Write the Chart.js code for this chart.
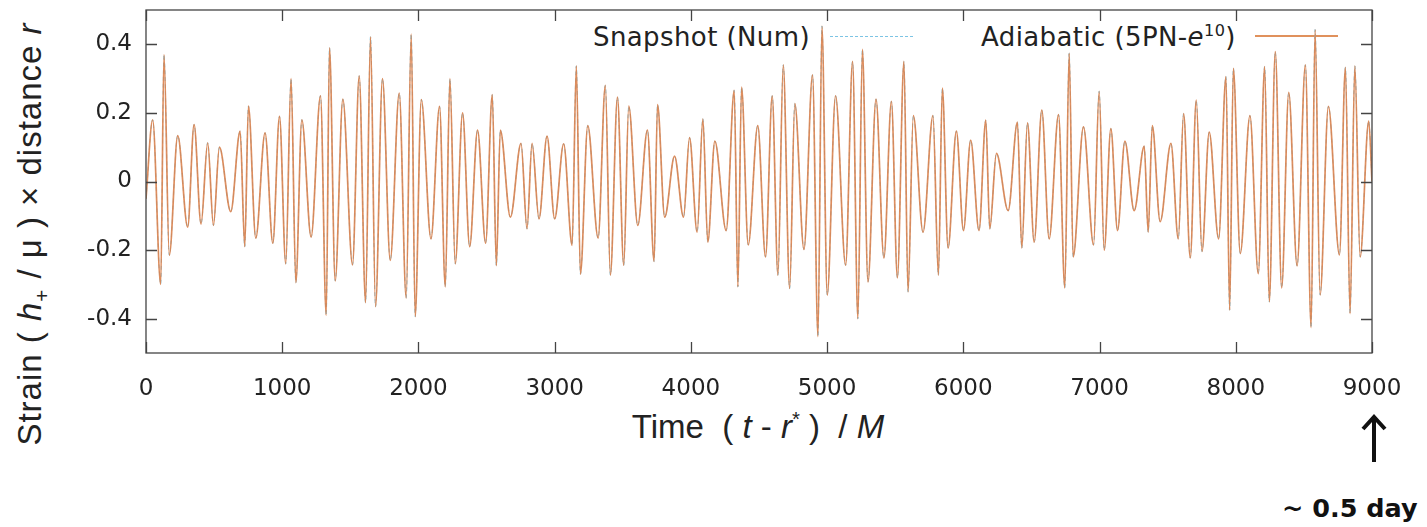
<!DOCTYPE html>
<html>
<head>
<meta charset="utf-8">
<script src="https://cdn.jsdelivr.net/npm/chart.js@4.4.1/dist/chart.umd.min.js"></script>
<style>
  html, body { margin: 0; padding: 0; background: #fff; }
  #wrap { position: relative; width: 1427px; height: 527px; overflow: hidden; }
  #strainChart { position: absolute; left: 0; top: 0; z-index: 2; }
  .lbl { position: absolute; color: #222; white-space: nowrap; }
  .legend { font-family: "DejaVu Sans", sans-serif; font-size: 26px; line-height: 30px; letter-spacing: 0.4px; z-index: 1; }
  .axis-title { font-family: "Liberation Sans", Arial, sans-serif; line-height: 36px; }
  sup, sub { font-size: 62%; line-height: 0; }
</style>
</head>
<body>
<div id="wrap">
  <!-- legend sits under the canvas, like gnuplot's key -->
  <div class="lbl legend" style="left:593px; top:22px;">Snapshot (Num)</div>
  <div style="position:absolute; left:830px; top:36px; width:83px; border-top:1.5px dashed #7cc4e4; z-index:1;"></div>
  <div class="lbl legend" style="left:981px; top:22px;">Adiabatic (5PN-<i>e</i><sup>10</sup>)</div>
  <div style="position:absolute; left:1255px; top:35px; width:83px; height:2px; background:#e0915c; z-index:1;"></div>

  <canvas id="strainChart" width="1427" height="527"></canvas>

  <div class="lbl axis-title" style="left:30px; top:234px; font-size:33px; letter-spacing:1px; transform:translate(-50%,-50%) rotate(-90deg);">Strain ( <i>h</i><sub>+</sub> / μ ) × distance <i>r</i></div>
  <div class="lbl axis-title" style="left:758px; top:427px; font-size:33px; transform:translate(-50%,-50%);">Time&nbsp; ( <i>t</i> - <i>r</i><sup>*</sup> ) &nbsp;/ <i>M</i></div>

  <svg style="position:absolute; left:1360px; top:412px;" width="30" height="54">
    <line x1="14" y1="50" x2="14" y2="6" stroke="#111" stroke-width="4"/>
    <polyline points="3,17 14,5 25,17" fill="none" stroke="#111" stroke-width="4"/>
  </svg>
  <div class="lbl" style="left:1282px; top:492px; font-family:'DejaVu Sans', sans-serif; font-weight:bold; font-size:25.5px; line-height:32px; color:#111;">~ 0.5 day</div>
</div>

<script>
// Extrema of the waveform (time in M, strain)
const times = [
  0, 49, 108, 132, 171, 233, 306, 353, 404, 453, 495, 539, 622, 691, 725, 752, 806, 874, 931, 980,
  1026, 1065, 1100, 1144, 1212, 1281, 1323, 1347, 1389, 1445, 1516, 1565, 1612, 1648, 1685, 1736, 1793, 1859, 1910, 1947,
  1976, 2021, 2092, 2155, 2197, 2231, 2270, 2324, 2376, 2434, 2493, 2542, 2572, 2601, 2675, 2753, 2797, 2834, 2885, 2944,
  3000, 3066, 3128, 3159, 3189, 3243, 3319, 3372, 3409, 3461, 3507, 3544, 3610, 3681, 3730, 3755, 3808, 3880, 3946, 3990,
  4046, 4088, 4124, 4176, 4259, 4318, 4345, 4372, 4421, 4491, 4548, 4597, 4639, 4678, 4725, 4763, 4830, 4893, 4933, 4962,
  5001, 5062, 5136, 5187, 5226, 5259, 5300, 5359, 5417, 5472, 5516, 5564, 5594, 5633, 5704, 5777, 5817, 5846, 5888, 5949,
  6001, 6054, 6115, 6165, 6194, 6243, 6329, 6397, 6429, 6471, 6520, 6576, 6630, 6699, 6745, 6777, 6806, 6882, 6956, 6997,
  7034, 7083, 7132, 7186, 7254, 7328, 7357, 7387, 7445, 7524, 7578, 7617, 7666, 7710, 7752, 7805, 7874, 7928, 7955, 7982,
  8033, 8104, 8165, 8212, 8246, 8290, 8337, 8389, 8450, 8511, 8553, 8582, 8619, 8680, 8761, 8805, 8839, 8874, 8913, 8976,
  9000
];
const adiabaticStrain = [
  -0.05, 0.18, -0.30, 0.37, -0.215, 0.134, -0.133, 0.166, -0.124, 0.113, -0.128, 0.10, -0.088, 0.147, -0.19, 0.22, -0.165, 0.142, -0.18, 0.19,
  -0.24, 0.30, -0.295, 0.18, -0.162, 0.25, -0.39, 0.39, -0.29, 0.24, -0.243, 0.308, -0.353, 0.422, -0.365, 0.30, -0.23, 0.258, -0.34, 0.43,
  -0.394, 0.239, -0.167, 0.219, -0.307, 0.30, -0.24, 0.20, -0.19, 0.15, -0.18, 0.253, -0.245, 0.15, -0.104, 0.111, -0.138, 0.111, -0.109, 0.132,
  -0.109, 0.11, -0.186, 0.337, -0.27, 0.163, -0.165, 0.28, -0.273, 0.246, -0.244, 0.22, -0.128, 0.15, -0.233, 0.224, -0.104, 0.074, -0.104, 0.128,
  -0.148, 0.183, -0.177, 0.118, -0.143, 0.266, -0.307, 0.275, -0.185, 0.163, -0.22, 0.25, -0.273, 0.34, -0.312, 0.227, -0.198, 0.311, -0.452, 0.453,
  -0.331, 0.25, -0.244, 0.35, -0.40, 0.385, -0.293, 0.24, -0.223, 0.234, -0.281, 0.35, -0.322, 0.192, -0.148, 0.192, -0.273, 0.272, -0.194, 0.147,
  -0.143, 0.121, -0.143, 0.179, -0.138, 0.082, -0.085, 0.173, -0.194, 0.171, -0.177, 0.208, -0.167, 0.195, -0.31, 0.374, -0.22, 0.159, -0.185, 0.263,
  -0.20, 0.154, -0.143, 0.118, -0.085, 0.103, -0.148, 0.163, -0.117, 0.111, -0.167, 0.198, -0.223, 0.237, -0.204, 0.144, -0.167, 0.306, -0.375, 0.33,
  -0.21, 0.192, -0.269, 0.335, -0.351, 0.379, -0.31, 0.26, -0.246, 0.34, -0.426, 0.443, -0.331, 0.219, -0.214, 0.333, -0.385, 0.337, -0.22, 0.176,
  0.0
];
// the numerical snapshot lies on top of the adiabatic curve everywhere
const snapshotStrain = adiabaticStrain;

const xTicks = [0, 1000, 2000, 3000, 4000, 5000, 6000, 7000, 8000, 9000];
const yTicks = [-0.4, -0.2, 0, 0.2, 0.4];

// gnuplot-style frame with inward tick marks on all four sides
const frameTicks = {
  id: "frameTicks",
  afterDatasetsDraw(chart) {
    const { ctx, chartArea: a, scales } = chart;
    const len = 11;
    ctx.save();
    ctx.strokeStyle = "#444";
    ctx.lineWidth = 1.3;
    ctx.strokeRect(a.left, a.top, a.right - a.left, a.bottom - a.top);
    ctx.beginPath();
    scales.x.ticks.forEach((t) => {
      const px = Math.round(scales.x.getPixelForValue(t.value)) + 0.5;
      ctx.moveTo(px, a.bottom); ctx.lineTo(px, a.bottom - len);
      ctx.moveTo(px, a.top); ctx.lineTo(px, a.top + len);
    });
    scales.y.ticks.forEach((t) => {
      const py = Math.round(scales.y.getPixelForValue(t.value)) + 0.5;
      ctx.moveTo(a.left, py); ctx.lineTo(a.left + len, py);
      ctx.moveTo(a.right, py); ctx.lineTo(a.right - len, py);
    });
    ctx.stroke();
    ctx.restore();
  },
};

const toPoints = (vals) => times.map((t, i) => ({ x: t, y: vals[i] }));

new Chart(document.getElementById("strainChart"), {
  type: "line",
  data: {
    datasets: [
      {
        label: "Adiabatic (5PN-e10)",
        data: toPoints(adiabaticStrain),
        borderColor: "rgba(218,130,78,0.9)",
        borderWidth: 1.7,
        order: 0,
      },
      {
        label: "Snapshot (Num)",
        data: toPoints(snapshotStrain),
        borderColor: "#78c6e6",
        borderWidth: 1,
        borderDash: [4, 3],
        order: 1,
      },
    ],
  },
  options: {
    responsive: false,
    animation: false,
    layout: { padding: { left: 0, top: 10, right: 55, bottom: 124 } },
    elements: {
      point: { radius: 0 },
      line: { cubicInterpolationMode: "monotone", fill: false },
    },
    plugins: { legend: { display: false }, tooltip: { enabled: false } },
    scales: {
      x: {
        type: "linear",
        min: 0,
        max: 9000,
        grid: { display: false },
        border: { display: false },
        afterBuildTicks: (scale) => { scale.ticks = xTicks.map((v) => ({ value: v })); },
        afterFit: (scale) => { scale.height = 50; scale.paddingLeft = 0; scale.paddingRight = 0; },
        ticks: {
          color: "#222",
          padding: 14,
          maxRotation: 0,
          font: { family: "DejaVu Sans", size: 23 },
          callback: (v) => String(v),
        },
      },
      y: {
        min: -0.5,
        max: 0.5,
        grid: { display: false },
        border: { display: false },
        afterBuildTicks: (scale) => { scale.ticks = yTicks.map((v) => ({ value: v })); },
        afterFit: (scale) => { scale.width = 146; scale.paddingTop = 0; scale.paddingBottom = 0; },
        ticks: {
          color: "#222",
          padding: 6,
          font: { family: "DejaVu Sans", size: 23 },
          callback: (v) => (v === 0 ? "0" : v.toFixed(1)),
        },
      },
    },
  },
  plugins: [frameTicks],
});
</script>
</body>
</html>
